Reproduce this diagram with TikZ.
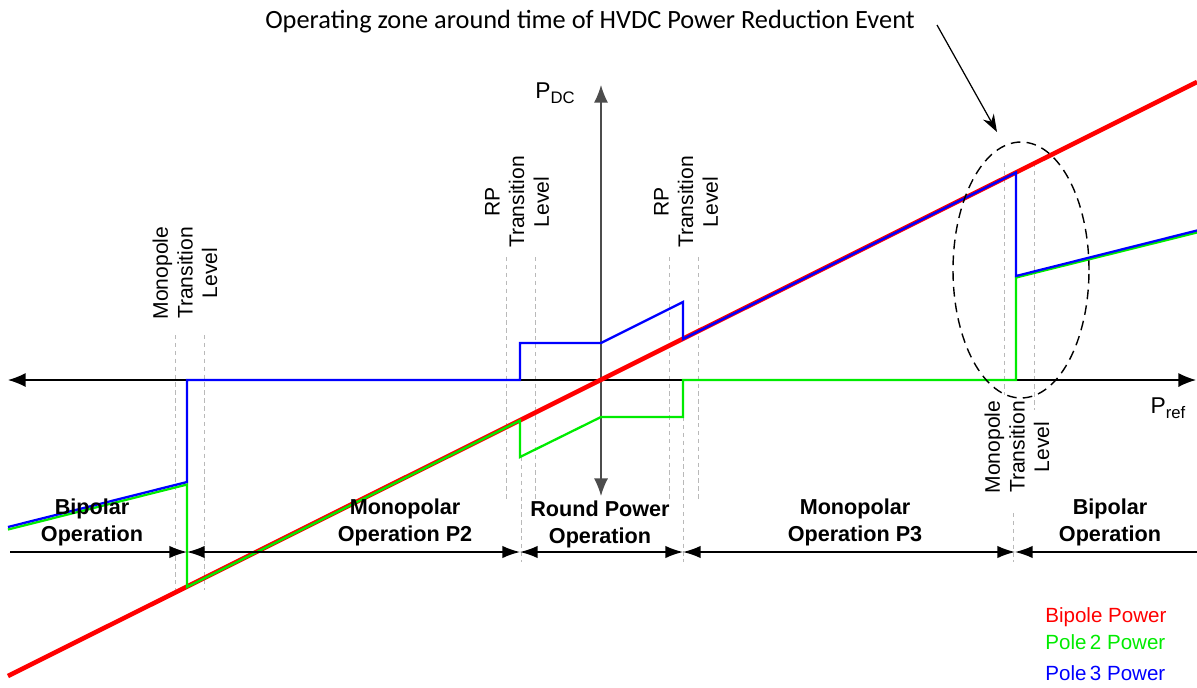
\documentclass[tikz,border=0pt]{standalone}
\usepackage{fontspec}
\setmainfont{Liberation Sans}
\newfontfamily\calibri{Carlito}
\usetikzlibrary{positioning, arrows.meta, shapes.geometric}

\definecolor{bipole}{RGB}{255,0,0}
\definecolor{poletwo}{RGB}{0,235,0}
\definecolor{polethree}{RGB}{0,0,255}

\tikzset{
	level/.style={draw=gray!55, line width=0.4pt, dash pattern=on 2.5pt off 2pt},
	trlabel/.style={rotate=90, align=center, inner sep=0pt, font=\fontsize{12}{14}\selectfont},
	oplabel/.style={align=center, inner sep=0pt, font=\fontsize{12.3}{15.3}\selectfont\bfseries},
	span/.style={line width=0.8pt, {Latex[length=10pt,width=7pt]}-{Latex[length=10pt,width=7pt]}},
	axis/.style={line width=0.8pt, {Latex[length=10pt,width=8pt]}-{Latex[length=10pt,width=8pt]}},
	legend/.style={anchor=west, inner sep=0pt, font=\fontsize{11.7}{14}\selectfont},
}

\begin{document}
\begin{tikzpicture}[x=0.02cm, y=-0.02cm]
	\useasboundingbox (0,0) rectangle (1197,687);

	% transition levels
	\draw[level] (175,335) -- (175,590);
	\draw[level] (204,335) -- (204,590);
	\draw[level] (506,257) -- (506,502);
	\draw[level] (535,257) -- (535,502);
	\draw[level] (669,257) -- (669,502);
	\draw[level] (698,257) -- (698,502);
	\draw[level] (1004,163) -- (1004,395);
	\draw[level] (1034,163) -- (1034,410);
	\draw[level] (521,457) -- (521,562);
	\draw[level] (683,417) -- (683,562);
	\draw[level] (1013,513) -- (1013,562);

	% axes
	\coordinate (xl) at (8,380);
	\coordinate (xr) at (1196,380);
	\coordinate (yt) at (601,85);
	\coordinate (yb) at (601,496);
	\draw[axis] (xl) -- (xr);
	\draw[axis, draw=black!70] (yb) -- (yt);
	\node (pdc) at (555,93) {\fontsize{13}{13}\selectfont P\raisebox{-0.45ex}{\fontsize{9.5}{9.5}\selectfont DC}};
	\node (pref) at (1168,408) {\fontsize{13}{13}\selectfont P\raisebox{-0.45ex}{\fontsize{9.5}{9.5}\selectfont ref}};

	% power curves
	\draw[bipole, line width=2.6pt] (8,676) -- (1197,82);
	\draw[poletwo, line width=1.3pt, line join=miter]
		(8,529.5) -- (187,484.5) -- (187,587) -- (520,420.5) -- (520,457) -- (601,417)
		-- (683,417) -- (683,380) -- (1016,380) -- (1016,277.5) -- (1197,232.5);
	\draw[polethree, line width=1.3pt, line join=miter]
		(8,527) -- (187,482) -- (187,380) -- (520,380) -- (520,343) -- (601,343)
		-- (683,302) -- (683,339) -- (1016,172.5) -- (1016,276) -- (1197,230.5);

	% level labels
	\node[trlabel] (mtl1) at (185,273) {Monopole\\Transition\\Level};
	\node[trlabel] (rp1) at (517,202) {RP\\Transition\\Level};
	\node[trlabel] (rp2) at (686,202) {RP\\Transition\\Level};
	\node[trlabel] (mtl2) at (1017,447) {Monopole\\Transition\\Level};

	% operating ranges
	\coordinate (s0) at (10,552);
	\coordinate (s1) at (187,552);
	\coordinate (s2) at (520,552);
	\coordinate (s3) at (683,552);
	\coordinate (s4) at (1015,552);
	\coordinate (s5) at (1197,552);
	\draw[line width=0.8pt, -{Latex[length=10pt,width=7pt]}] (s0) -- (s1);
	\draw[span] (s1) -- (s2);
	\draw[span] (s2) -- (s3);
	\draw[span] (s3) -- (s4);
	\draw[line width=0.8pt, {Latex[length=10pt,width=7pt]}-] (s4) -- (s5);

	\node[oplabel] (bp1) at (92,522) {Bipolar\\Operation};
	\node[oplabel] (mp2) at (405,522) {Monopolar\\Operation P2};
	\node[oplabel] (rpo) at (600,524) {Round Power\\Operation};
	\node[oplabel] (mp3) at (855,522) {Monopolar\\Operation P3};
	\node[oplabel] (bp2) at (1110,522) {Bipolar\\Operation};

	% event zone
	\node[draw, ellipse, dash pattern=on 5.5pt off 3.5pt, line width=0.8pt,
		minimum width=2.72cm, minimum height=5.12cm, inner sep=0pt] (zone) at (1021,270) {};
	\node[font=\calibri\fontsize{15}{17}\selectfont] (title) at (590,22)
		{Operating zone around time of HVDC Power Reduction Event};
	\coordinate (tail) at (937,25);
	\coordinate (tip) at (997,132);
	\draw[line width=0.7pt, -{Stealth[length=10pt,width=7pt]}] (tail) -- (tip);

	% legend
	\node[legend, text=bipole] (lb) at (1045,617) {Bipole Power};
	\node[legend, text=poletwo] (l2) at (1045,642) {Pole\,2 Power};
	\node[legend, text=polethree] (l3) at (1045,673) {Pole\,3 Power};
\end{tikzpicture}
\end{document}
